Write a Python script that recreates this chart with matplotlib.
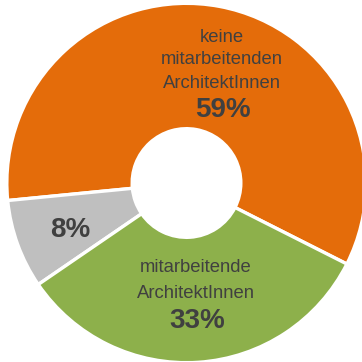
import matplotlib.pyplot as plt

# Share of practices by employee structure
categories = ["keine\nmitarbeitenden\nArchitektInnen", "", "mitarbeitende\nArchitektInnen"]
shares = [59, 8, 33]
colors = ["#E46C0A", "#BFBFBF", "#8DB04B"]
text_color = "#404040"

plt.rcParams["font.family"] = ["Liberation Sans", "DejaVu Sans"]

fig = plt.figure(figsize=(3.62, 3.62), dpi=100)
ax = fig.add_axes([0, 0, 1, 1])

cx, cy = 186.5, 362 - 183
edge_lw = 2.4
half_edge = edge_lw * 100 / 72 / 2
r = 178 + half_edge
hole = 56 - half_edge
ax.pie(shares, colors=colors, startangle=-26.8, counterclock=True,
       center=(cx, cy), radius=r, frame=True,
       wedgeprops=dict(width=r - hole, edgecolor="white", linewidth=edge_lw))
ax.set_xlim(0, 362)
ax.set_ylim(0, 362)
ax.set_aspect("equal")
ax.axis("off")

def put(x, y, s, size, bold=False):
    ax.text(x, 362 - y, s, ha="center", va="center", fontsize=size,
            color=text_color, fontweight="bold" if bold else "normal")

# orange segment label
put(222, 37, "keine", 13.3)
put(222, 59, "mitarbeitenden", 13.3)
put(222, 83, "ArchitektInnen", 13.3)
put(223, 110, f"{shares[0]}%", 20, bold=True)

# gray segment label
put(70, 230, f"{shares[1]}%", 20, bold=True)

# green segment label
put(196, 267, "mitarbeitende", 13.3)
put(196, 293, "ArchitektInnen", 13.3)
put(197, 321, f"{shares[2]}%", 20, bold=True)

fig.savefig("out.png", dpi=100)
